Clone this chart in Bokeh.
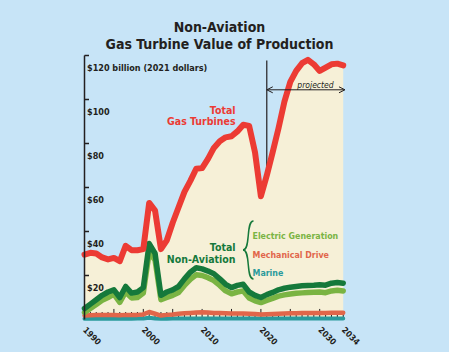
import math
from bokeh.plotting import figure
from bokeh.models import Range1d, Arrow, OpenHead
from bokeh.embed import file_html
from bokeh.resources import INLINE
from bokeh.core.properties import value

# ---------------- data ----------------
years = list(range(1990, 2035))
total_gas_turbines = [29.5, 30.3, 30.0, 28.2, 27.3, 28.0, 26.5, 33.5, 31.5, 31.5,
                      32.0, 53.0, 49.5, 32.0, 36.0, 44.0, 51.0, 58.0, 63.0, 68.5,
                      68.8, 73.0, 78.0, 81.0, 82.8, 83.3, 85.5, 88.5, 88.0, 76.0,
                      56.0, 65.5, 76.0, 87.0, 99.0, 108.0, 113.0, 116.5, 118.0, 116.0,
                      113.0, 114.5, 116.0, 116.3, 115.5]
total_non_aviation = [5.0, 7.0, 9.0, 11.0, 12.5, 13.5, 10.0, 15.0, 12.0, 12.5,
                      14.5, 34.5, 30.0, 11.0, 12.5, 13.5, 15.0, 18.5, 21.5, 23.5,
                      23.0, 22.0, 20.8, 18.5, 16.0, 14.5, 15.5, 16.0, 12.5, 11.0,
                      10.0, 11.3, 12.3, 13.5, 14.2, 14.7, 15.0, 15.3, 15.5, 15.6,
                      15.8, 15.6, 16.5, 16.8, 16.5]
electric_generation = [3.2, 5.0, 6.8, 8.7, 10.0, 11.5, 7.8, 12.5, 9.8, 10.0,
                       12.0, 30.5, 27.0, 9.0, 10.0, 11.0, 12.3, 15.5, 18.3, 20.3,
                       20.0, 19.0, 17.7, 15.5, 13.0, 11.7, 12.5, 13.0, 9.8, 8.5,
                       7.7, 8.7, 9.6, 10.6, 11.2, 11.6, 11.9, 12.1, 12.3, 12.4,
                       12.5, 12.2, 13.0, 13.3, 13.0]
mechanical_drive = [1.8, 1.9, 2.0, 2.0, 2.0, 2.0, 1.9, 2.1, 2.0, 2.1,
                    2.3, 3.4, 2.6, 1.8, 2.1, 2.3, 2.6, 2.8, 3.0, 3.2,
                    3.3, 3.2, 3.0, 2.9, 2.8, 2.7, 2.7, 2.7, 2.6, 2.5,
                    2.3, 2.4, 2.5, 2.6, 2.7, 2.8, 2.8, 2.9, 2.9, 3.0,
                    3.0, 3.0, 3.1, 3.1, 3.1]
marine = [0.3, 0.3, 0.3, 0.3, 0.3, 0.3, 0.3, 0.3, 0.3, 0.4,
          0.5, 0.8, 0.5, 0.3, 0.3, 0.4, 0.4, 0.5, 0.5, 0.5,
          0.5, 0.5, 0.5, 0.5, 0.5, 0.5, 0.5, 0.5, 0.4, 0.4,
          0.4, 0.4, 0.5, 0.5, 0.5, 0.5, 0.5, 0.5, 0.5, 0.5,
          0.5, 0.5, 0.5, 0.5, 0.5]
x_tick_values = [1990, 2000, 2010, 2020, 2030, 2034]
x_tick_labels = ["1990", "2000", "2010", "2020", "2030", "2034"]
y_tick_values = [20, 40, 60, 80, 100, 120]
y_tick_labels = ["$20", "$40", "$60", "$80", "$100", "$120 billion (2021 dollars)"]
projection_start = 2021
projection_end = 2034

# ---------------- layout / style ----------------
W, H = 449, 352
PXY = 5.88      # px per year
PXV = 2.2       # px per billion
X0 = 84         # page px of 1990
Y0 = 319        # page px of value 0


def sx(px):
    return 1990 + (px - X0) / PXY


def sy(py):
    return (Y0 - py) / PXV


BG = "#c7e4f7"
CREAM = "#f6f0d7"
RED = "#ec3b34"
DKGREEN = "#15793b"
LTGREEN = "#7ab443"
SALMON = "#e1664a"
TEAL = "#2a9a9c"
INK = "#231f20"
FONT = "'Liberation Sans Narrow', 'DejaVu Sans Condensed', 'Roboto Condensed', Roboto, sans-serif"

p = figure(width=W, height=H, output_backend="svg", toolbar_location=None,
           x_axis_type=None, y_axis_type=None,
           x_range=Range1d(sx(0), sx(W)), y_range=Range1d(sy(H), sy(0)))
p.min_border = 0
p.outline_line_color = None
p.background_fill_color = BG
p.border_fill_color = BG

# projection marker line (under the fill)
p.segment(x0=[projection_start], y0=[0], x1=[projection_start], y1=[sy(60)],
          line_color=INK, line_width=1.2)

# cream area under total
p.varea(x=years, y1=[0] * len(years), y2=total_gas_turbines, fill_color=CREAM)

# x ticks
minor = [y for y in years if y % 5 != 0]
major = [y for y in years if y % 5 == 0]
p.segment(x0=minor, y0=[0] * len(minor), x1=minor, y1=[3.4] * len(minor),
          line_color=INK, line_width=1)
p.segment(x0=major, y0=[0] * len(major), x1=major, y1=[4.8] * len(major),
          line_color=INK, line_width=1)

# series
p.line(years, marine, line_color=TEAL, line_width=4, line_join="round", line_cap="round")
p.line(years, mechanical_drive, line_color=SALMON, line_width=4.5, line_join="round", line_cap="round")
p.line(years, electric_generation, line_color=LTGREEN, line_width=5.5, line_join="round", line_cap="round")
p.line(years, total_non_aviation, line_color=DKGREEN, line_width=5.5, line_join="round", line_cap="round")
p.line(years, total_gas_turbines, line_color=RED, line_width=6, line_join="round", line_cap="round")

# y axis
p.segment(x0=[1990], y0=[0], x1=[1990], y1=[y_tick_values[-1]], line_color=INK, line_width=1.5)
p.segment(x0=[1990] * len(y_tick_values), y0=y_tick_values,
          x1=[sx(X0 + 4.5)] * len(y_tick_values), y1=y_tick_values,
          line_color=INK, line_width=1.5)
p.text(x=[1990] * len(y_tick_values), y=y_tick_values, text=y_tick_labels,
       x_offset=2.5, y_offset=12, text_font=value(FONT), text_font_style="bold",
       text_font_size="9px", text_color=INK, text_align="left", text_baseline="alphabetic")

# x tick labels
p.text(x=x_tick_values, y=[0] * len(x_tick_values), text=x_tick_labels,
       x_offset=3, y_offset=6, angle=-math.pi / 4,
       text_font=value(FONT), text_font_style="bold", text_font_size="8.5px",
       text_color=INK, text_align="left", text_baseline="top")

# title
p.text(x=[sx(219), sx(219)], y=[sy(26.5), sy(43.3)],
       text=["Non-Aviation", "Gas Turbine Value of Production"],
       text_font=value(FONT), text_font_style="bold", text_font_size="14px",
       text_color=INK, text_align="center", text_baseline="alphabetic")

# series labels
p.text(x=[sx(235), sx(235)], y=[sy(109.3), sy(120)], text=["Total", "Gas Turbines"],
       text_font=value(FONT), text_font_style="bold", text_font_size="10.5px",
       text_color=RED, text_align="right", text_baseline="alphabetic")
p.text(x=[sx(235), sx(235)], y=[sy(246.7), sy(258.3)], text=["Total", "Non-Aviation"],
       text_font=value(FONT), text_font_style="bold", text_font_size="10.5px",
       text_color=DKGREEN, text_align="right", text_baseline="alphabetic")
p.text(x=[sx(252)] * 3, y=[sy(235.3), sy(254), sy(272.7)],
       text=["Electric Generation", "Mechanical Drive", "Marine"],
       text_font=value(FONT), text_font_style="bold", text_font_size="8.8px",
       text_color=[LTGREEN, SALMON, TEAL], text_align="left", text_baseline="alphabetic")

# brace
p.bezier(x0=[sx(253), sx(253)], y0=[sy(220.5), sy(278.5)],
         x1=[sx(242.5), sx(242.5)], y1=[sy(249.5), sy(249.5)],
         cx0=[sx(245), sx(245)], cy0=[sy(220.5), sy(278.5)],
         cx1=[sx(250.5), sx(250.5)], cy1=[sy(249.5), sy(249.5)],
         line_color=DKGREEN, line_width=1.5)

# projected arrow
p.add_layout(Arrow(start=OpenHead(size=6, line_width=1, line_color=INK),
                   end=OpenHead(size=6, line_width=1, line_color=INK),
                   x_start=projection_start, y_start=sy(89.3),
                   x_end=projection_end + 0.3, y_end=sy(89.3),
                   line_color=INK, line_width=1))
p.text(x=[sx(315)], y=[sy(84)], text=["projected"],
       text_font=value(FONT), text_font_style="italic", text_font_size="8.5px",
       text_color=INK, text_align="center", text_baseline="alphabetic")

html = file_html(p, INLINE)
html = html.replace("</head>", "<style>html,body{background:%s;}</style></head>" % BG, 1)
open("out.html", "w").write(html)
